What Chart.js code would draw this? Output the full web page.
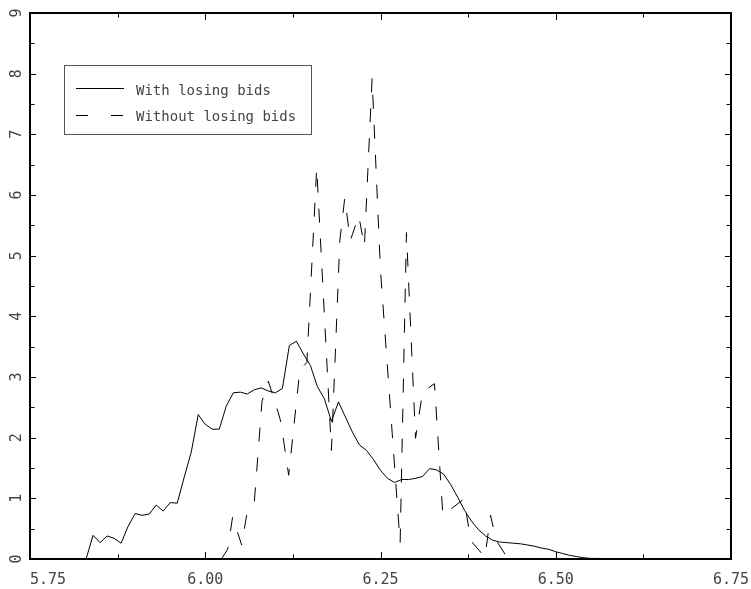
<!DOCTYPE html>
<html>
<head>
<meta charset="utf-8">
<script src="https://cdn.jsdelivr.net/npm/chart.js@4.4.0/dist/chart.umd.min.js"></script>
<style>
  html, body { margin: 0; padding: 0; background: #fff; }
  canvas { display: block; }
</style>
</head>
<body>
<canvas id="bidChart" width="751" height="589"></canvas>
<script>
// ── Bid density: with vs without losing bids ──────────────────────────────
// Values.

const seriesNames = ['With losing bids', 'Without losing bids'];

const withX = [5.75, 5.82, 5.83, 5.84, 5.85, 5.86, 5.87, 5.88, 5.89, 5.90, 5.91, 5.92, 5.93, 5.94, 5.95,
  5.96, 5.97, 5.98, 5.99, 6.00, 6.01, 6.02, 6.03, 6.04, 6.05, 6.06, 6.07, 6.08, 6.09, 6.10,
  6.11, 6.12, 6.13, 6.14, 6.15, 6.16, 6.17, 6.18, 6.19, 6.20, 6.21, 6.22, 6.23, 6.24, 6.25,
  6.26, 6.27, 6.28, 6.29, 6.30, 6.31, 6.32, 6.33, 6.34, 6.35, 6.36, 6.37, 6.38, 6.39, 6.40,
  6.41, 6.42, 6.43, 6.44, 6.45, 6.46, 6.47, 6.48, 6.49, 6.50, 6.51, 6.52, 6.53, 6.54, 6.55,
  6.56, 6.57, 6.58, 6.60];
const withY = [0, 0, 0, 0.39, 0.27, 0.38, 0.34, 0.26, 0.54, 0.75, 0.72, 0.74, 0.89, 0.79, 0.93,
  0.92, 1.35, 1.76, 2.38, 2.22, 2.14, 2.14, 2.52, 2.74, 2.75, 2.72, 2.79, 2.82, 2.77, 2.74,
  2.81, 3.52, 3.59, 3.38, 3.19, 2.84, 2.64, 2.27, 2.59, 2.34, 2.09, 1.88, 1.79, 1.64, 1.46,
  1.33, 1.26, 1.31, 1.31, 1.33, 1.36, 1.49, 1.47, 1.40, 1.23, 1.02, 0.80, 0.62, 0.48, 0.38,
  0.31, 0.28, 0.27, 0.26, 0.25, 0.23, 0.21, 0.18, 0.16, 0.12, 0.09, 0.06, 0.04, 0.02, 0.01,
  0.01, 0.005, 0, 0];

const withoutX = [6.023, 6.032, 6.039, 6.052, 6.060, 6.070, 6.081, 6.090, 6.104, 6.108, 6.119,
  6.135, 6.145, 6.159, 6.180, 6.192, 6.199, 6.207, 6.219, 6.227, 6.238, 6.250, 6.278, 6.287,
  6.300, 6.310, 6.327, 6.339, 6.369, 6.379, 6.399, 6.407, 6.415, 6.432];
const withoutY = [0, 0.16, 0.69, 0.23, 0.79, 0.94, 2.60, 2.93, 2.42, 2.25, 1.38,
  3.12, 3.24, 6.45, 1.79, 5.25, 5.95, 5.25, 5.66, 5.15, 7.92, 4.75, 0.26, 5.38,
  1.99, 2.75, 2.89, 0.72, 0.99, 0.30, 0.03, 0.72, 0.31, 0];

const xRange = [5.75, 6.75];
const xLabelTicks = [5.75, 6.00, 6.25, 6.50, 6.75];
const yRange = [0, 9];
const yLabelTicks = [0, 1, 2, 3, 4, 5, 6, 7, 8, 9];

const FONT = 'DejaVu Sans Mono';
const TEXT = '#444';

const toPoints = (xs, ys) => xs.map((x, i) => ({ x, y: ys[i] }));
const near = (v, list) => list.some(t => Math.abs(t - v) < 1e-9);

// fixed box sizes, no label overflow padding -> plot frame lands where the reference has it
const fixBox = (w, h) => s => {
  if (w !== null) s.width = w;
  if (h !== null) s.height = h;
  s.paddingLeft = s.paddingRight = s.paddingTop = s.paddingBottom = 0;
};

// Inward tick marks on all four sides + the heavy frame.
const frameTicks = {
  id: 'frameTicks',
  afterDraw(chart) {
    const { ctx, chartArea: a, scales: { x, y } } = chart;
    ctx.save();
    ctx.strokeStyle = '#000';
    ctx.lineWidth = 1;
    ctx.beginPath();
    x.ticks.forEach(t => {
      const px = Math.round(x.getPixelForValue(t.value)) + 0.5;
      const len = near(t.value, xLabelTicks) ? 7 : 4.5;
      ctx.moveTo(px, a.bottom); ctx.lineTo(px, a.bottom - len);
      ctx.moveTo(px, a.top);    ctx.lineTo(px, a.top + len);
    });
    y.ticks.forEach(t => {
      const py = Math.round(y.getPixelForValue(t.value)) + 0.5;
      const len = near(t.value, yLabelTicks) ? 6 : 4.5;
      ctx.moveTo(a.left, py);  ctx.lineTo(a.left + len, py);
      ctx.moveTo(a.right, py); ctx.lineTo(a.right - len, py);
    });
    ctx.stroke();
    ctx.lineWidth = 2;
    ctx.strokeRect(a.left, a.top, a.right - a.left, a.bottom - a.top);
    ctx.restore();
  }
};

// Boxed legend in the upper-left, PGPLOT style.
const boxLegend = {
  id: 'boxLegend',
  afterDraw(chart) {
    const { ctx } = chart;
    ctx.save();
    ctx.strokeStyle = '#555';
    ctx.lineWidth = 1;
    ctx.strokeRect(64.5, 65.5, 247, 69);
    ctx.strokeStyle = '#000';
    chart.data.datasets.forEach((ds, i) => {
      const ly = i === 0 ? 88.5 : 115.5;
      ctx.setLineDash(i === 0 ? [] : [12, 23]);
      ctx.beginPath();
      ctx.moveTo(76, ly); ctx.lineTo(124, ly);
      ctx.stroke();
      ctx.setLineDash([]);
      ctx.fillStyle = TEXT;
      ctx.font = '14px "' + FONT + '"';
      ctx.textBaseline = 'alphabetic';
      ctx.fillText(ds.label, 136, i === 0 ? 94.5 : 121);
    });
    ctx.restore();
  }
};

new Chart(document.getElementById('bidChart'), {
  type: 'line',
  data: {
    datasets: [
      {
        label: seriesNames[0],
        data: toPoints(withX, withY),
        borderColor: '#000',
        borderWidth: 1,
        pointRadius: 0,
        tension: 0,
        fill: false,
      },
      {
        label: seriesNames[1],
        data: toPoints(withoutX, withoutY),
        borderColor: '#000',
        borderWidth: 1,
        borderDash: [14, 16],
        pointRadius: 0,
        tension: 0,
        fill: false,
      }
    ]
  },
  options: {
    responsive: false,
    animation: false,
    events: [],
    layout: { autoPadding: false, padding: { top: 13, right: 20, left: 0, bottom: 0 } },
    plugins: { legend: { display: false }, tooltip: { enabled: false } },
    scales: {
      x: {
        type: 'linear',
        min: xRange[0], max: xRange[1],
        border: { display: false },
        grid: { display: false },
        afterFit: fixBox(null, 30),
        ticks: {
          stepSize: 0.125,
          autoSkip: false,
          maxRotation: 0,
          padding: 4,
          color: TEXT,
          font: { family: FONT, size: 15 },
          callback: (v, i) => near(v, xLabelTicks)
            ? (i === 0 ? '    ' : '') + v.toFixed(2)
            : ''
        }
      },
      y: {
        type: 'linear',
        min: yRange[0], max: yRange[1],
        border: { display: false },
        grid: { display: false },
        afterFit: fixBox(30, null),
        ticks: {
          stepSize: 0.5,
          autoSkip: false,
          minRotation: 90,
          maxRotation: 90,
          crossAlign: 'center',
          padding: 0,
          color: TEXT,
          font: { family: FONT, size: 15 },
          callback: v => near(v, yLabelTicks) ? String(v) : ''
        }
      }
    }
  },
  plugins: [frameTicks, boxLegend]
});
</script>
</body>
</html>
